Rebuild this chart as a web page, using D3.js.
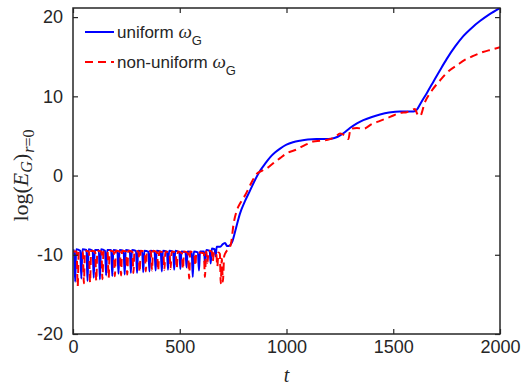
<!DOCTYPE html>
<html>
<head>
<meta charset="utf-8">
<script src="https://cdn.jsdelivr.net/npm/d3@7"></script>
<style>
  body { margin: 0; background: #fff; }
  svg { display: block; }
  .tick text { font-family: "Liberation Sans", Arial, sans-serif; font-size: 18px; fill: #262626; }
  .tick line { stroke: #262626; stroke-width: 1.2; }
</style>
</head>
<body>
<div id="chart"></div>
<script>
// 数据 (t, log E)
const xTicks = [0, 500, 1000, 1500, 2000];
const yTicks = [-20, -10, 0, 10, 20];
const seriesNames = ["uniform", "non-uniform"];

const uniformData = [
  [0,-9.5],[5,-9.4],[10,-13.4],[15,-9.3],
  [34,-9.5],[39,-13.0],[44,-9.3],
  [63,-9.4],[68,-13.3],[73,-9.3],
  [92,-9.5],[97,-12.9],[102,-9.4],
  [121,-9.4],[126,-13.1],[131,-9.3],
  [150,-9.5],[155,-12.6],[160,-9.4],
  [179,-9.4],[184,-12.7],[189,-9.4],
  [208,-9.5],[213,-12.4],[218,-9.4],
  [237,-9.5],[242,-12.5],[247,-9.4],
  [266,-9.5],[271,-12.3],[276,-9.4],
  [295,-9.5],[300,-12.3],[305,-9.5],
  [324,-9.6],[329,-12.2],[334,-9.5],
  [353,-9.6],[358,-12.1],[363,-9.5],
  [382,-9.6],[387,-12.0],[392,-9.5],
  [411,-9.6],[416,-12.1],[421,-9.5],
  [440,-9.6],[445,-11.9],[450,-9.5],
  [469,-9.6],[474,-11.9],[479,-9.5],
  [498,-9.7],[503,-11.8],[508,-9.6],
  [527,-9.7],[532,-11.6],[537,-9.6],
  [556,-9.7],[561,-12.8],[566,-9.6],
  [585,-9.7],[590,-12.0],[595,-9.6],
  [614,-9.6],[619,-11.4],[624,-9.4],
  [640,-9.5],[645,-11.1],[650,-9.2],
  [663,-9.3],[668,-10.2],[673,-9.0],
  [690,-9.0],[700,-8.7],[712,-8.5],[722,-8.9],[735,-8.8],[745,-8.4],
  [760,-7.0],[782,-4.8],[806,-3.2],[829,-1.9],[852,-0.6],[876,0.6],
  [900,1.5],[923,2.3],[946,2.9],[970,3.4],[1000,3.9],[1030,4.2],
  [1063,4.4],[1100,4.55],[1140,4.6],[1180,4.6],[1210,4.65],[1240,4.9],
  [1270,5.4],[1297,6.0],[1330,6.6],[1360,7.0],[1400,7.4],[1438,7.7],
  [1480,7.95],[1532,8.1],[1570,8.1],[1595,8.1],[1610,8.3],[1630,9.2],
  [1657,10.4],[1690,11.95],[1719,13.3],[1750,14.7],[1790,16.3],[1828,17.6],
  [1870,18.7],[1906,19.5],[1950,20.35],[2000,21.15]
];

const nonUniformData = [
  [0,-9.6],[17,-9.6],[22,-14.0],[27,-9.5],
  [46,-9.6],[51,-13.6],[56,-9.5],
  [75,-9.6],[80,-13.5],[85,-9.5],
  [104,-9.6],[109,-13.3],[114,-9.5],
  [133,-9.6],[138,-13.1],[143,-9.5],
  [162,-9.6],[167,-12.9],[172,-9.5],
  [191,-9.6],[196,-12.7],[201,-9.5],
  [220,-9.6],[225,-12.6],[230,-9.5],
  [249,-9.6],[254,-12.5],[259,-9.5],
  [278,-9.6],[283,-12.3],[288,-9.5],
  [307,-9.6],[312,-12.2],[317,-9.5],
  [336,-9.6],[341,-12.1],[346,-9.5],
  [365,-9.6],[370,-12.0],[375,-9.5],
  [394,-9.7],[399,-12.0],[404,-9.6],
  [423,-9.7],[428,-11.9],[433,-9.6],
  [452,-9.7],[457,-11.8],[462,-9.6],
  [481,-9.7],[486,-11.7],[491,-9.6],
  [510,-9.8],[515,-11.8],[520,-9.6],
  [539,-9.8],[544,-13.0],[549,-9.6],
  [568,-9.8],[573,-11.4],[578,-9.7],
  [613,-9.8],[618,-12.8],[623,-9.6],
  [625,-9.7],[630,-11.0],[635,-9.5],
  [650,-9.6],[655,-10.8],[660,-9.6],
  [671,-9.8],[676,-11.5],[681,-9.7],
  [688,-9.9],[692,-13.6],[697,-10.5],[702,-13.4],[708,-10.2],
  [718,-9.6],[732,-9.2],[742,-8.3],[751,-6.3],[765,-4.6],[785,-3.4],
  [806,-2.5],[830,-1.2],[860,0.2],[885,0.6],[907,0.9],[940,1.6],
  [970,2.2],[1000,2.8],[1048,3.3],[1090,3.9],[1125,4.3],[1160,4.4],
  [1204,4.6],[1230,4.9],[1251,5.3],[1275,5.0],[1290,4.6],[1300,5.9],
  [1330,6.0],[1360,5.9],[1400,6.5],[1438,6.9],[1485,7.4],[1532,7.9],
  [1563,8.0],[1602,8.4],[1612,7.8],[1625,7.5],[1649,9.3],[1680,10.7],
  [1719,12.0],[1760,13.2],[1797,13.9],[1835,14.6],[1875,15.1],[1920,15.6],
  [1960,15.9],[2000,16.2]
];

const width = 521;
const height = 385;
const plot = { left: 73, right: 500, top: 8, bottom: 334 };

const svg = d3.select("#chart")
  .append("svg")
  .attr("width", width)
  .attr("height", height);

const x = d3.scaleLinear().domain([0, 2000]).range([plot.left, plot.right]);
const y = d3.scaleLinear().domain([-20, 21.15]).range([plot.bottom, plot.top]);

// 裁剪区域
svg.append("clipPath").attr("id", "clip")
  .append("rect")
  .attr("x", plot.left).attr("y", plot.top)
  .attr("width", plot.right - plot.left)
  .attr("height", plot.bottom - plot.top);

const line = d3.line()
  .x(d => x(d[0]))
  .y(d => y(d[1]))
  .curve(d3.curveMonotoneX);

const g = svg.append("g").attr("clip-path", "url(#clip)");

g.append("path")
  .datum(uniformData)
  .attr("fill", "none")
  .attr("stroke", "#0000ff")
  .attr("stroke-width", 2)
  .attr("stroke-linejoin", "round")
  .attr("d", line);

g.append("path")
  .datum(nonUniformData)
  .attr("fill", "none")
  .attr("stroke", "#ff0000")
  .attr("stroke-width", 2)
  .attr("stroke-dasharray", "8,5")
  .attr("d", line);

// 坐标轴
const fmt = d => String(d).replace("\u2212", "-");

svg.append("g")
  .attr("transform", `translate(0,${plot.bottom})`)
  .call(d3.axisBottom(x).tickValues(xTicks).tickFormat(fmt).tickSizeInner(-5).tickSizeOuter(0).tickPadding(6))
  .call(a => a.select(".domain").remove());

svg.append("g")
  .attr("transform", `translate(${plot.left},0)`)
  .call(d3.axisLeft(y).tickValues(yTicks).tickFormat(fmt).tickSizeInner(-5).tickSizeOuter(0).tickPadding(10))
  .call(a => a.select(".domain").remove());

svg.append("g")
  .attr("transform", `translate(0,${plot.top})`)
  .call(d3.axisTop(x).tickValues(xTicks).tickSizeInner(-5).tickSizeOuter(0).tickFormat(""))
  .call(a => a.select(".domain").remove());

svg.append("g")
  .attr("transform", `translate(${plot.right},0)`)
  .call(d3.axisRight(y).tickValues(yTicks).tickSizeInner(-5).tickSizeOuter(0).tickFormat(""))
  .call(a => a.select(".domain").remove());

// 边框
svg.append("rect")
  .attr("x", plot.left).attr("y", plot.top)
  .attr("width", plot.right - plot.left)
  .attr("height", plot.bottom - plot.top)
  .attr("fill", "none")
  .attr("stroke", "#262626")
  .attr("stroke-width", 1.5);

// 轴标题
svg.append("text")
  .attr("x", x(1000))
  .attr("y", 382)
  .attr("text-anchor", "middle")
  .attr("font-family", "Liberation Serif, serif")
  .attr("font-style", "italic")
  .attr("font-size", 20)
  .attr("fill", "#262626")
  .text("t");

const yl = svg.append("text")
  .attr("transform", `translate(28,${y(0)}) rotate(-90)`)
  .attr("text-anchor", "middle")
  .attr("font-family", "Liberation Serif, serif")
  .attr("font-size", 22)
  .attr("fill", "#262626");
yl.append("tspan").text("log(");
yl.append("tspan").attr("font-style", "italic").text("E");
yl.append("tspan").attr("font-style", "italic").attr("font-size", 16).attr("dy", 4).text("G");
yl.append("tspan").attr("dy", -4).text(")");
yl.append("tspan").attr("font-style", "italic").attr("font-size", 16).attr("dy", 6).attr("dx", 1).text("r");
yl.append("tspan").attr("font-size", 16).text("=0");

// 图例
const legend = svg.append("g").attr("font-family", "Liberation Sans, Arial, sans-serif").attr("fill", "#262626");
const legendRows = [
  { name: seriesNames[0], color: "#0000ff", dash: null, y: 32 },
  { name: seriesNames[1], color: "#ff0000", dash: "8,5", y: 62 }
];
legendRows.forEach(r => {
  legend.append("line")
    .attr("x1", 85).attr("x2", 114)
    .attr("y1", r.y).attr("y2", r.y)
    .attr("stroke", r.color)
    .attr("stroke-width", 2)
    .attr("stroke-dasharray", r.dash);
  const t = legend.append("text")
    .attr("x", 117).attr("y", r.y + 6)
    .attr("font-size", 17);
  t.append("tspan").text(r.name + " ");
  t.append("tspan").attr("font-family", "Liberation Serif, serif").attr("font-style", "italic").attr("font-size", 19).text("\u03c9");
  t.append("tspan").attr("font-size", 13).attr("dy", 7).text("G");
});
</script>
</body>
</html>
